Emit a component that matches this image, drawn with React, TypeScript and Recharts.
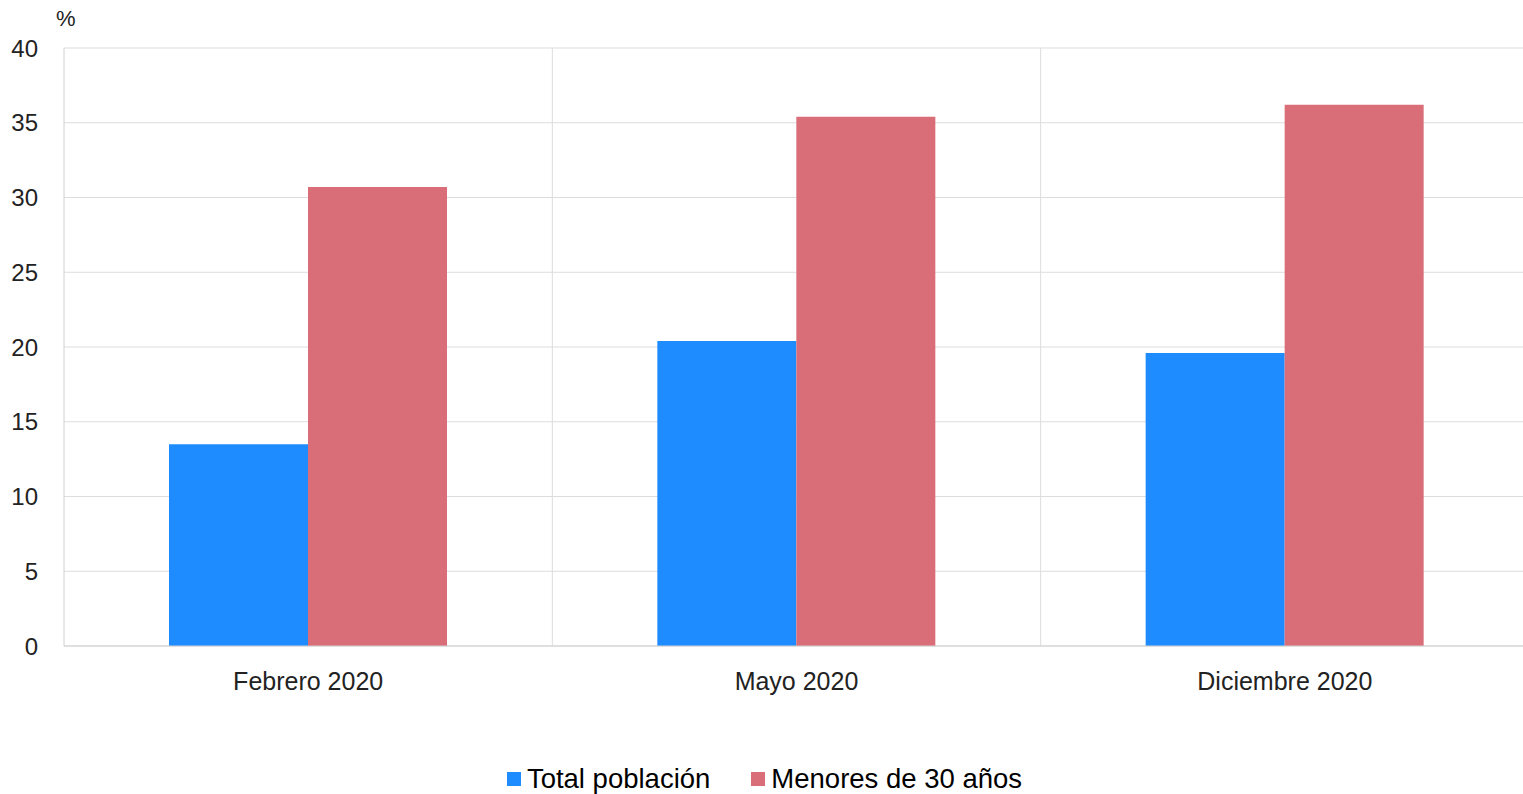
import { BarChart, Bar, XAxis, YAxis, CartesianGrid, Legend } from 'recharts';

const periods = ['Febrero 2020', 'Mayo 2020', 'Diciembre 2020'];
const totalPoblacion = [13.5, 20.4, 19.6];
const menores30 = [30.7, 35.4, 36.2];
const yTicks = [0, 5, 10, 15, 20, 25, 30, 35, 40];

const series = [
    { key: 'total', name: 'Total población', color: '#1E8CFF' },
    { key: 'menores', name: 'Menores de 30 años', color: '#D96D78' }
];

const data = periods.map((p, i) => ({
    name: p,
    total: totalPoblacion[i],
    menores: menores30[i]
}));

const font = '"Liberation Sans", Arial, Helvetica, sans-serif';

const LegendContent = () => (
    <div style={{ display: 'flex', justifyContent: 'center', fontFamily: font, fontSize: 27.5, color: '#000', lineHeight: '30px' }}>
        {series.map((s, i) => (
            <div key={s.key} style={{ display: 'flex', alignItems: 'center', marginLeft: i ? 41 : 0 }}>
                <span style={{ width: 14, height: 14, background: s.color, display: 'inline-block', marginRight: 6 }} />
                <span>{s.name}</span>
            </div>
        ))}
    </div>
);

const App = () => {
    return (
        <div style={{ position: 'absolute', left: 0, top: 0, width: 1523, height: 794, overflow: 'hidden', background: '#fff' }}>
            <div style={{ position: 'absolute', left: 56, top: 6, fontFamily: font, fontSize: 22, color: '#222' }}>%</div>
            <BarChart
                width={1529}
                height={794}
                data={data}
                margin={{ top: 48, right: 0, left: 0, bottom: 0 }}
                barCategoryGap="21.5%"
                barGap={0}
            >
                <CartesianGrid
                    stroke="#dddddd"
                    verticalCoordinatesGenerator={({ offset }: any) => [
                        offset.left + offset.width / 3,
                        offset.left + (2 * offset.width) / 3,
                        offset.left + offset.width
                    ]}
                />
                <XAxis
                    dataKey="name"
                    stroke="#d0d0d0"
                    tickLine={false}
                    tickSize={0}
                    tickMargin={26}
                    height={118}
                    tick={{ fill: '#222', fontSize: 25, fontFamily: font }}
                />
                <YAxis
                    domain={[0, 40]}
                    ticks={yTicks}
                    width={64}
                    stroke="#d0d0d0"
                    tickLine={false}
                    tickSize={0}
                    tickMargin={26}
                    interval={0}
                    tick={{ fill: '#222', fontSize: 24, fontFamily: font }}
                />
                <Legend verticalAlign="bottom" height={30} content={<LegendContent />} />
                {series.map(s => (
                    <Bar key={s.key} dataKey={s.key} name={s.name} fill={s.color} isAnimationActive={false} />
                ))}
            </BarChart>
        </div>
    );
};

export default App;
